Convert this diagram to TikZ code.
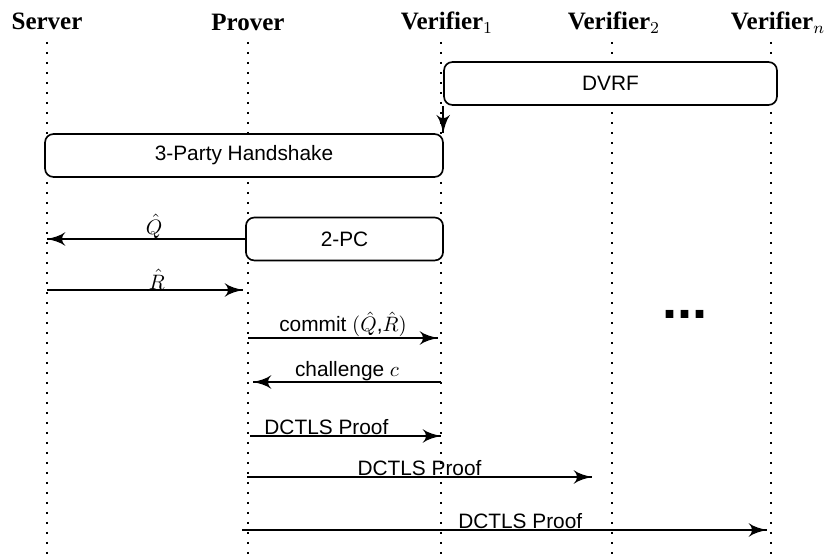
\documentclass[tikz,border=0pt]{standalone}
\usepackage{amsmath}
\usepackage{fontspec}
\setmainfont{Liberation Serif}
\setsansfont{Liberation Sans}
\usetikzlibrary{arrows}
\usetikzlibrary{decorations.markings}
\usetikzlibrary{positioning}
\tikzset{party/.style = {font = \bfseries\fontsize{12}{14}\selectfont, anchor = base, inner sep = 0}}
\tikzset{life/.style = {loosely dotted, line width = 0.8pt}}
\tikzset{phase/.style = {draw, fill = white, rounded corners = 4pt, line width = 0.8pt,
                         font = \sffamily, minimum height = 20.6pt}}
\tikzset{msg/.style = {line width = 0.8pt,
                       decoration = {markings,
                                     mark = at position 1 with {\arrow[scale = 1.7]{latex'}}},
                       postaction = {decorate}}}
\tikzset{lbl/.style = {font = \sffamily, above, inner sep = 0pt}}

\begin{document}
\begin{tikzpicture}[x = 0.48pt, y = -0.48pt]
    \useasboundingbox (0, 0) rectangle (826, 555);
    \node [party] (tS) at (47, 30) {Server};
    \node [party] (tP) at (248, 31) {Prover};
    \node [party] (tV1) at (447, 30) {Verifier$_1$};
    \node [party] (tV2) at (614, 30) {Verifier$_2$};
    \node [party] (tVn) at (778, 30) {Verifier$_n$};
    \foreach \p/\x in {S/47, P/248, V1/441, V2/612, Vn/771} {
      \coordinate (\p) at (\x, 42);
      \coordinate (\p end) at (\x, 555);
      \draw [life] (\p) -- (\p end);
    }
    \node [phase, minimum width = 159.8pt] (dvrf) at (610.5, 83.5) {DVRF};
    \node [phase, minimum width = 191pt] (hs) at (244, 155.5) {3-Party Handshake};
    \node [phase, minimum width = 94.6pt] (tpc) at (344.5, 239) {2-PC};
    \draw [msg] (dvrf.south west) -- (dvrf.south west |- hs.north);
    \draw [msg] (tpc.west) -- (tpc.west -| S) node [lbl, pos = 0.46] {$\hat{Q}$};
    \coordinate (r0) at (47, 290);
    \coordinate (r1) at (243, 290);
    \draw [msg] (r0) -- (r1) node [lbl, pos = 0.56] {$\hat{R}$};
    \coordinate (c0) at (248, 338);
    \coordinate (c1) at (438, 338);
    \draw [msg] (c0) -- (c1) node [lbl, midway] {commit $(\hat{Q}$,$\hat{R})$};
    \coordinate (h0) at (441, 382);
    \coordinate (h1) at (253, 382);
    \draw [msg] (h0) -- (h1) node [lbl, midway] {challenge $c$};
    \coordinate (p0) at (250, 436);
    \coordinate (p1) at (441, 436);
    \draw [msg] (p0) -- (p1) node [lbl, pos = 0.4] {DCTLS Proof};
    \coordinate (pp0) at (247, 477);
    \coordinate (pp1) at (592, 477);
    \draw [msg] (pp0) -- (pp1) node [lbl, midway] {DCTLS Proof};
    \coordinate (ppp0) at (242, 530);
    \coordinate (ppp1) at (767, 530);
    \draw [msg] (ppp0) -- (ppp1) node [lbl, pos = 0.53] {DCTLS Proof};
    \node [font = \sffamily\bfseries\fontsize{26}{26}\selectfont] (more) at (685, 314) {...};
  \end{tikzpicture}
\end{document}
